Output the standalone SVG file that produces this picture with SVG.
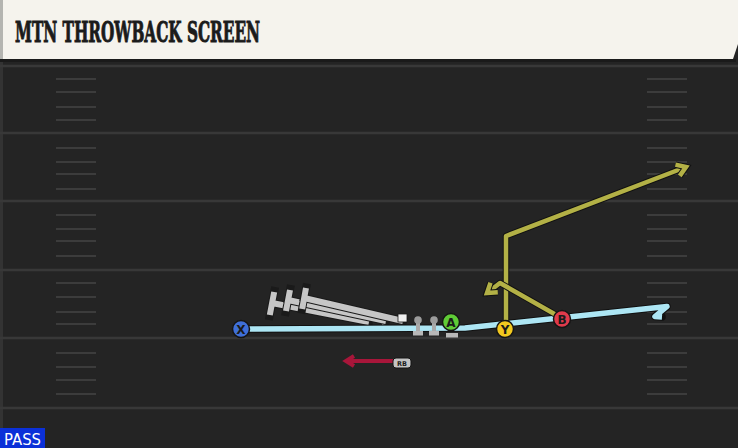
<svg xmlns="http://www.w3.org/2000/svg" width="738" height="448" viewBox="0 0 738 448">
<style>
  .yard { stroke: #383838; stroke-width: 2.5; }
  .hash { stroke: #3c3c3c; stroke-width: 2; }
  .outline { fill: none; stroke: #111; stroke-linecap: round; stroke-linejoin: round; }
  .blue { fill: none; stroke: #ade6f4; stroke-width: 5.5; stroke-linejoin: round; }
  .olive { fill: none; stroke: #b3b146; stroke-width: 4.5; stroke-linejoin: round; }
  .maroon { fill: none; stroke: #a8163a; stroke-width: 4; }
  .block { fill: none; stroke: #c6c6c6; stroke-width: 6; stroke-linecap: butt; }
  .blockOut { fill: none; stroke: #1a1a1a; stroke-width: 8; }
  .player { stroke: #151515; stroke-width: 1.5; }
  .lbl { font-family: "DejaVu Sans", "Liberation Sans", sans-serif; font-weight: bold; font-size: 12px; fill: #1a1a1a; text-anchor: middle; }
  .lineman { fill: #a9a9a9; }
</style>
<defs>
  <marker id="arrOlive" markerUnits="userSpaceOnUse" viewBox="-12 -8 16 16" refX="0" refY="0" markerWidth="16" markerHeight="16" orient="auto" overflow="visible">
    <path d="M -9 -6 L 0 0 L -9 6" fill="none" stroke="#111" stroke-width="6.5" stroke-linejoin="miter"/>
    <path d="M -9 -6 L 0 0 L -9 6" fill="none" stroke="#b3b146" stroke-width="4.5" stroke-linejoin="miter"/>
  </marker>
  <marker id="arrMaroon" markerUnits="userSpaceOnUse" viewBox="-12 -8 16 16" refX="0" refY="0" markerWidth="16" markerHeight="16" orient="auto" overflow="visible">
    <path d="M -8 -5 L 0 0 L -8 5" fill="none" stroke="#a8163a" stroke-width="4" stroke-linejoin="miter"/>
  </marker>
</defs>

<!-- field -->
<rect x="0" y="0" width="738" height="448" fill="#242424"/>
<rect x="0" y="60" width="3" height="388" fill="#333"/>
<g id="yardlines">
  <line class="yard" x1="0" y1="66" x2="738" y2="66"/>
  <line class="yard" x1="0" y1="133" x2="738" y2="133"/>
  <line class="yard" x1="0" y1="201" x2="738" y2="201"/>
  <line class="yard" x1="0" y1="270" x2="738" y2="270"/>
  <line class="yard" x1="0" y1="338" x2="738" y2="338"/>
  <line class="yard" x1="0" y1="408" x2="738" y2="408"/>
</g>
<g id="hashes-left">
  <line class="hash" x1="56" x2="96" y1="79" y2="79"/><line class="hash" x1="56" x2="96" y1="92" y2="92"/><line class="hash" x1="56" x2="96" y1="107" y2="107"/><line class="hash" x1="56" x2="96" y1="120" y2="120"/>
  <line class="hash" x1="56" x2="96" y1="148" y2="148"/><line class="hash" x1="56" x2="96" y1="162" y2="162"/><line class="hash" x1="56" x2="96" y1="174" y2="174"/><line class="hash" x1="56" x2="96" y1="189" y2="189"/>
  <line class="hash" x1="56" x2="96" y1="215" y2="215"/><line class="hash" x1="56" x2="96" y1="229" y2="229"/><line class="hash" x1="56" x2="96" y1="241" y2="241"/><line class="hash" x1="56" x2="96" y1="256" y2="256"/>
  <line class="hash" x1="56" x2="96" y1="283" y2="283"/><line class="hash" x1="56" x2="96" y1="297" y2="297"/><line class="hash" x1="56" x2="96" y1="312" y2="312"/><line class="hash" x1="56" x2="96" y1="324" y2="324"/>
  <line class="hash" x1="56" x2="96" y1="353" y2="353"/><line class="hash" x1="56" x2="96" y1="367" y2="367"/><line class="hash" x1="56" x2="96" y1="380" y2="380"/><line class="hash" x1="56" x2="96" y1="394" y2="394"/>
</g>
<g id="hashes-right">
  <line class="hash" x1="647" x2="687" y1="79" y2="79"/><line class="hash" x1="647" x2="687" y1="92" y2="92"/><line class="hash" x1="647" x2="687" y1="107" y2="107"/><line class="hash" x1="647" x2="687" y1="120" y2="120"/>
  <line class="hash" x1="647" x2="687" y1="148" y2="148"/><line class="hash" x1="647" x2="687" y1="162" y2="162"/><line class="hash" x1="647" x2="687" y1="174" y2="174"/><line class="hash" x1="647" x2="687" y1="189" y2="189"/>
  <line class="hash" x1="647" x2="687" y1="215" y2="215"/><line class="hash" x1="647" x2="687" y1="229" y2="229"/><line class="hash" x1="647" x2="687" y1="241" y2="241"/><line class="hash" x1="647" x2="687" y1="256" y2="256"/>
  <line class="hash" x1="647" x2="687" y1="283" y2="283"/><line class="hash" x1="647" x2="687" y1="297" y2="297"/><line class="hash" x1="647" x2="687" y1="312" y2="312"/><line class="hash" x1="647" x2="687" y1="324" y2="324"/>
  <line class="hash" x1="647" x2="687" y1="353" y2="353"/><line class="hash" x1="647" x2="687" y1="367" y2="367"/><line class="hash" x1="647" x2="687" y1="380" y2="380"/><line class="hash" x1="647" x2="687" y1="394" y2="394"/>
</g>

<!-- title banner -->
<g id="title">
  <rect x="0" y="59" width="736" height="3" fill="#1a1a1a"/>
  <polygon points="0,0 738,0 738,44 733,59 0,59" fill="#f5f3ed"/>
  <rect x="0" y="0" width="3" height="59" fill="#b4b4b0"/>
  <text transform="translate(15,42) scale(1,1.42)" x="0" y="0" font-family="'DejaVu Serif', 'Liberation Serif', serif" font-weight="bold" font-size="20" fill="#1b1b1b" stroke="#1b1b1b" stroke-width="0.7" textLength="245" lengthAdjust="spacingAndGlyphs">MTN THROWBACK SCREEN</text>
</g>

<!-- linemen under blocks -->
<g id="LT"><rect x="366" y="320" width="6" height="9" fill="#bdbdbd"/><circle cx="369" cy="320" r="4" fill="#bdbdbd"/></g>
<g id="LG"><rect x="382" y="320" width="6" height="9" fill="#bdbdbd"/><circle cx="385" cy="319" r="4" fill="#bdbdbd"/></g>

<g id="connectors">
  <!-- block lines -->
  <path class="blockOut" d="M 369 322 L 272 303 M 269.6 316 L 274.4 291" stroke-linecap="square"/>
  <path class="block" d="M 369 322 L 272 303 M 269.8 315 L 274.2 292"/>
  <path class="blockOut" d="M 386 321 L 288 300 M 285.8 312 L 290.2 289" stroke-linecap="square"/>
  <path class="block" d="M 386 321 L 288 300 M 286 311 L 290 290"/>
  <path class="blockOut" d="M 403 321 L 304 298 M 302 309.6 L 306.2 287.5" stroke-linecap="square"/>
  <path class="block" d="M 403 321 L 304 298 M 302.2 309 L 306 288"/>

  <!-- X screen path -->
  <path class="outline" stroke-width="7.5" d="M 248 329 L 465 328 L 667 306.5 L 655 316.5 L 662 317"/>
  <path class="blue" d="M 248 329 L 465 328 L 667 306.5 L 655 316.5 L 662 317"/>

  <!-- Y route -->
  <path class="outline" stroke-width="6.5" d="M 506 322 L 506 236 L 686 167"/>
  <path class="olive" d="M 506 322 L 506 236 L 686 167" marker-end="url(#arrOlive)"/>

  <!-- B route -->
  <path class="outline" stroke-width="6.5" d="M 558 316 L 500 283 L 487 293"/>
  <path class="olive" d="M 558 316 L 500 283 L 487 293" marker-end="url(#arrOlive)"/>

  <!-- RB route -->
  <path class="maroon" d="M 394 361 L 346 361" marker-end="url(#arrMaroon)"/>
</g>

<!-- remaining line -->
<g id="C"><rect x="398" y="314" width="9" height="8" fill="#f0f0f0" stroke="#1a1a1a" stroke-width="0.8"/></g>
<g id="RG">
  <rect x="416" y="320" width="4" height="12" class="lineman"/>
  <circle cx="418" cy="320" r="3.8" fill="#9c9c9c"/>
  <rect x="413" y="331" width="10" height="4.5" fill="#b8b8b8"/>
</g>
<g id="RT">
  <rect x="432" y="320" width="4" height="12" class="lineman"/>
  <circle cx="434" cy="320" r="3.8" fill="#9c9c9c"/>
  <rect x="429" y="331" width="10" height="4.5" fill="#b8b8b8"/>
</g>

<!-- skill players -->
<g id="X">
  <circle cx="241" cy="329" r="8.5" fill="#3f6fd8" class="player"/>
  <text x="241" y="333.5" class="lbl">X</text>
</g>
<g id="A">
  <rect x="446" y="333" width="12" height="4.5" fill="#b8b8b8"/>
  <circle cx="451" cy="322" r="8.5" fill="#5fcb36" class="player"/>
  <text x="451" y="326.5" class="lbl">A</text>
</g>
<g id="Y">
  <circle cx="505" cy="329" r="8.5" fill="#f2c81f" class="player"/>
  <text x="505" y="333.5" class="lbl">Y</text>
</g>
<g id="B">
  <circle cx="562" cy="319" r="8.5" fill="#e03a4b" class="player"/>
  <text x="562" y="323.5" class="lbl">B</text>
</g>
<g id="RB">
  <rect x="393" y="358" width="18" height="10" rx="3" fill="#c4c4c4" stroke="#151515" stroke-width="1"/>
  <text x="402" y="365.5" font-family="'DejaVu Sans', 'Liberation Sans', sans-serif" font-weight="bold" font-size="6.5" fill="#1a1a1a" text-anchor="middle">RB</text>
</g>

<!-- play type label -->
<g id="pass">
  <rect x="0" y="428" width="45" height="20" fill="#0b30d8"/>
  <text x="4" y="445" font-family="'DejaVu Sans', 'Liberation Sans', sans-serif" font-size="15" fill="#ffffff" textLength="37" lengthAdjust="spacingAndGlyphs">PASS</text>
</g>
</svg>
